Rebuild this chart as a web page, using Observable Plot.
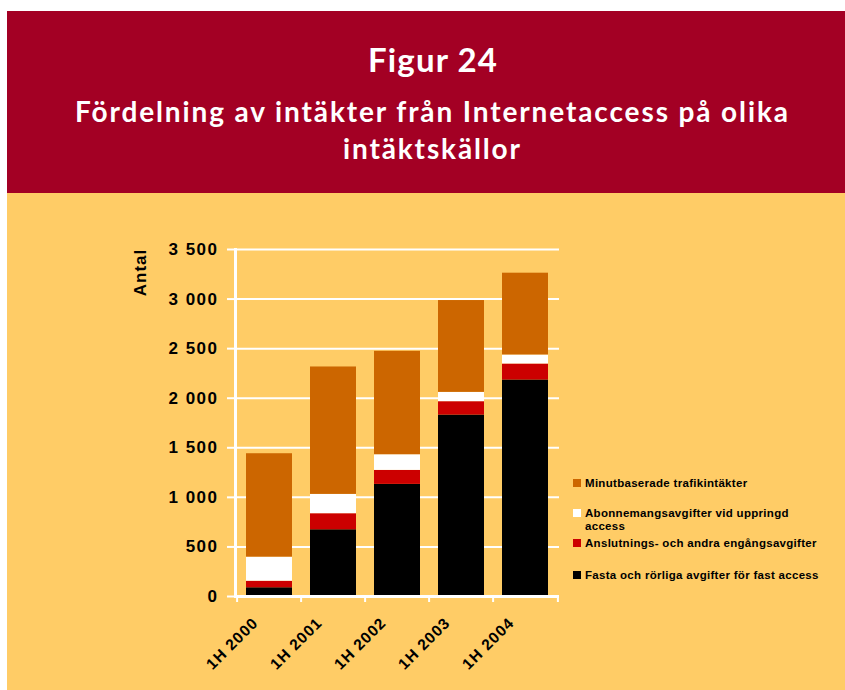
<!DOCTYPE html>
<html>
<head>
<meta charset="utf-8">
<script src="https://cdn.jsdelivr.net/npm/d3@7"></script>
<script src="https://cdn.jsdelivr.net/npm/@observablehq/plot@0.6"></script>
<style>
  html, body { margin: 0; padding: 0; background: #ffffff; }
  #page { position: relative; width: 845px; height: 690px; overflow: hidden; }
  #header { position: absolute; left: 0; top: 0; }
  #yellow { position: absolute; left: 7px; top: 193px; width: 838px; height: 497px; background: #FFCC66; }
  #chart { position: absolute; left: 0; top: 193px; }
  #chart svg [aria-label="y-axis tick label"] text { letter-spacing: 1.5px; }
  #chart svg [aria-label="text"] text { letter-spacing: 1px; }
  .leg { position: absolute; left: 573px; width: 250px; font-family: "Liberation Sans", Arial, sans-serif;
         font-weight: bold; font-size: 11.5px; letter-spacing: 0.3px; line-height: 12.7px; color: #000; }
  .leg .sw { position: absolute; left: 0; top: 2px; width: 8px; height: 8px; }
  .leg .tx { position: absolute; left: 12px; top: 0; width: 238px; }
</style>
</head>
<body>
<div id="page">
  <svg id="header" width="845" height="193">
    <rect x="7" y="11" width="838" height="182" fill="#A30024"></rect>
    <text x="432.5" y="72" text-anchor="middle" fill="#fff" font-family="Lato" font-weight="bold" font-size="33" textLength="129" lengthAdjust="spacing">Figur 24</text>
    <text x="431.5" y="122" text-anchor="middle" fill="#fff" font-family="Lato" font-weight="bold" font-size="28" textLength="713" lengthAdjust="spacing">Fördelning av intäkter från Internetaccess på olika</text>
    <text x="431.5" y="158.5" text-anchor="middle" fill="#fff" font-family="Lato" font-weight="bold" font-size="28" textLength="177" lengthAdjust="spacing">intäktskällor</text>
  </svg>
  <div id="yellow"></div>
  <div id="chart"></div>
  <div id="legend"></div>
</div>
<script>
// ---- data ----
const categories = ["1H 2000", "1H 2001", "1H 2002", "1H 2003", "1H 2004"];
const seriesNames = [
  "Fasta och rörliga avgifter för fast access",
  "Anslutnings- och andra engångsavgifter",
  "Abonnemangsavgifter vid uppringd access",
  "Minutbaserade trafikintäkter"
];
const seriesColors = ["#000000", "#CC0000", "#FFFFFF", "#CC6600"];
const fastaValues = [88, 673, 1131, 1830, 2184];
const anslutningValues = [66, 162, 141, 135, 161];
const abonnemangValues = [243, 195, 158, 94, 91];
const minutValues = [1043, 1285, 1043, 926, 825];
const yTicks = [0, 500, 1000, 1500, 2000, 2500, 3000, 3500];
const yLabel = "Antal";

// ---- table ----
const seriesValues = [fastaValues, anslutningValues, abonnemangValues, minutValues];
const rows = [];
seriesNames.forEach((s, si) => categories.forEach((c, ci) => rows.push({period: c, series: s, value: seriesValues[si][ci]})));

const fmt = d => d3.format(",")(d).replace(/,/g, " ");
const step = (845 - 235 - 286) / categories.length;

const chart = Plot.plot({
  width: 845, height: 497,
  marginLeft: 235, marginRight: 286, marginTop: 56, marginBottom: 94,
  style: {background: "transparent", fontFamily: "'Liberation Sans', Arial, sans-serif", color: "#000"},
  x: {domain: categories, paddingInner: 0.275, paddingOuter: 0.1375, axis: null},
  y: {domain: [0, 3500], axis: null},
  color: {domain: seriesNames, range: seriesColors},
  marks: [
    Plot.ruleY(yTicks.slice(1), {stroke: "white", strokeWidth: 2}),
    Plot.barY(rows, {x: "period", y: "value", fill: "series"}),
    Plot.axisY({ticks: yTicks, tickFormat: fmt, tickSize: 8, tickPadding: 9, stroke: "white", strokeWidth: 2,
                fill: "black", fontSize: 17, fontWeight: "bold", label: null}),
    Plot.axisX({tickSize: 6, tickFormat: () => "", dx: -step / 2, stroke: "white", strokeWidth: 2, label: null}),
    Plot.axisX({ticks: [categories[categories.length - 1]], tickSize: 6, tickFormat: () => "", dx: step / 2, stroke: "white", strokeWidth: 2, label: null}),
    Plot.frame({anchor: "left", stroke: "white", strokeWidth: 3}),
    Plot.ruleY([0], {stroke: "white", strokeWidth: 3}),
    Plot.text(categories, {x: d => d, y: 0, text: d => d, rotate: -45, textAnchor: "end", lineAnchor: "middle",
                           dx: -14, dy: 24, fontSize: 15.5, fontWeight: "bold", fill: "black"}),
    Plot.text([yLabel], {frameAnchor: "top-left", text: d => d, rotate: -90, textAnchor: "middle", lineAnchor: "middle",
                         dx: -95, dy: 23, fontSize: 17, fontWeight: "bold", fill: "black"})
  ]
});
document.getElementById("chart").appendChild(chart);

// ---- legend ----
const legendTops = [477, 507, 537, 569]; // top to bottom
const legendOrder = seriesNames.map((n, i) => i).reverse();
const legend = document.getElementById("legend");
legendOrder.forEach((si, k) => {
  const item = document.createElement("div");
  item.className = "leg";
  item.style.top = legendTops[k] + "px";
  const sw = document.createElement("div");
  sw.className = "sw";
  sw.style.background = seriesColors[si];
  const tx = document.createElement("div");
  tx.className = "tx";
  tx.textContent = seriesNames[si];
  item.appendChild(sw);
  item.appendChild(tx);
  legend.appendChild(item);
});
</script>
</body>
</html>
